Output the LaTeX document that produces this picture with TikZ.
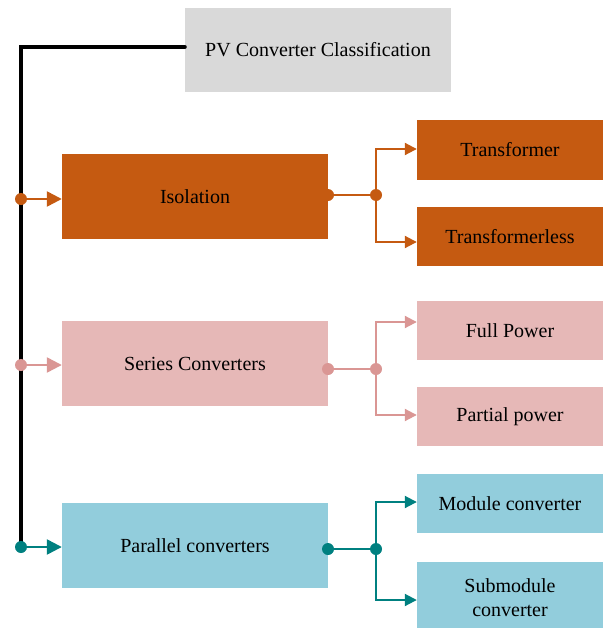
\documentclass[tikz,border=0pt]{standalone}
\usepackage{fontspec}
\setmainfont{Liberation Serif}
\usetikzlibrary{arrows.meta}
\definecolor{topgray}{RGB}{217,217,217}
\definecolor{isoorange}{RGB}{197,90,17}
\definecolor{serpink}{RGB}{230,184,183}
\definecolor{serline}{RGB}{218,150,148}
\definecolor{parblue}{RGB}{146,205,220}
\definecolor{parteal}{RGB}{0,128,128}
\tikzset{
  box/.style={draw=none, minimum width=266pt, minimum height=85pt, inner sep=0pt, font=\fontsize{20}{24}\selectfont, align=center},
  leaf/.style={draw=none, minimum width=186pt, minimum height=59pt, inner sep=0pt, font=\fontsize{20}{24}\selectfont, align=center},
  dot/.style={circle, fill, inner sep=0pt, minimum size=12pt},
  link/.style={line width=2.4pt, -{Triangle[length=15pt, width=15pt]}},
  branch/.style={line width=2pt, -{Triangle[length=12pt, width=12pt]}}
}
\begin{document}
\begin{tikzpicture}[x=1pt, y=-1pt]
\useasboundingbox (0,0) rectangle (605,629);

% root box and trunk
\node[box, fill=topgray, minimum width=266pt, minimum height=84pt] (root) at (318,50) {PV Converter Classification};
\coordinate (corner) at (21,47);
\coordinate (trunkend) at (21,547);
\draw[line width=4pt, line cap=round] (root.west |- 0,47) -- (corner) -- (trunkend);

% level one boxes
\node[box, fill=isoorange] (iso) at (195,196.5) {Isolation};
\node[box, fill=serpink] (ser) at (195,363.5) {Series Converters};
\node[box, fill=parblue] (par) at (195,545.5) {Parallel converters};

% leaves
\node[leaf, fill=isoorange, minimum height=60pt] (trf) at (510,150) {Transformer};
\node[leaf, fill=isoorange] (trfl) at (510,236.5) {Transformerless};
\node[leaf, fill=serpink] (full) at (510,330.5) {Full Power};
\node[leaf, fill=serpink] (part) at (510,416.5) {Partial power};
\node[leaf, fill=parblue] (mod) at (510,503.5) {Module converter};
\node[leaf, fill=parblue, minimum height=66pt] (sub) at (510,595) {};
\node[font=\fontsize{20}{24}\selectfont, align=center, inner sep=0pt] (subtext) at (510,597.5) {Submodule\\[0pt]converter};

% trunk taps
\node[dot, isoorange] (tiso) at (21,199) {};
\node[dot, serline] (tser) at (21,365) {};
\node[dot, parteal] (tpar) at (21,547) {};
\draw[link, isoorange] (tiso.center) -- (iso.west |- tiso);
\draw[link, serline] (tser.center) -- (ser.west |- tser);
\draw[link, parteal] (tpar.center) -- (par.west |- tpar);

% Isolation branches
\node[dot, isoorange] (oiso) at (328,195) {};
\node[dot, isoorange] (jiso) at (376,195) {};
\draw[line width=2pt, isoorange] (oiso.center) -- (jiso.center);
\draw[branch, isoorange] (jiso.center) |- (trf.west |- 0,149);
\draw[branch, isoorange] (jiso.center) |- (trfl.west |- 0,242);

% Series branches
\node[dot, serline] (oser) at (328,369) {};
\node[dot, serline] (jser) at (376,369) {};
\draw[line width=2pt, serline] (oser.center) -- (jser.center);
\draw[branch, serline] (jser.center) |- (full.west |- 0,322);
\draw[branch, serline] (jser.center) |- (part.west |- 0,415);

% Parallel branches
\node[dot, parteal] (opar) at (328,549) {};
\node[dot, parteal] (jpar) at (376,549) {};
\draw[line width=2pt, parteal] (opar.center) -- (jpar.center);
\draw[branch, parteal] (jpar.center) |- (mod.west |- 0,502);
\draw[branch, parteal] (jpar.center) |- (sub.west |- 0,600);
\end{tikzpicture}
\end{document}
